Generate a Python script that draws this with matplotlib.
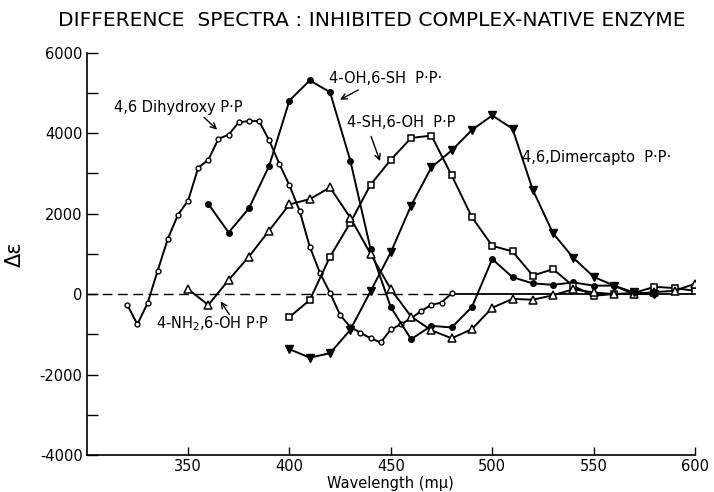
import matplotlib
matplotlib.use("Agg")
import matplotlib.pyplot as plt
from matplotlib.ticker import MultipleLocator

plt.rcParams['font.family'] = ['DejaVu Sans']
plt.rcParams['axes.unicode_minus'] = False

# ---- data ----
dihydroxy_nm = [320, 325, 330, 335, 340, 345, 350, 355, 360, 365, 370, 375, 380, 385,
                390, 395, 400, 405, 410, 415, 420, 425, 430, 435, 440, 445, 450, 455,
                460, 465, 470, 475, 480]
dihydroxy = [-270, -750, -230, 580, 1370, 1970, 2320, 3140, 3340, 3860, 3960, 4270, 4300, 4300,
             3820, 3240, 2700, 2070, 1180, 530, 30, -520, -820, -960, -1100, -1200, -880, -750,
             -600, -420, -270, -210, 20]

oh_sh_nm = [360, 370, 380, 390, 400, 410, 420, 430, 440, 450, 460, 470, 480, 490, 500,
            510, 520, 530, 540, 550, 560, 570, 580]
oh_sh = [2240, 1530, 2130, 3190, 4810, 5310, 5020, 3320, 1120, -330, -1120, -790, -830, -320, 870,
         420, 265, 230, 290, 210, 210, 0, 0]

sh_oh_nm = [400, 410, 420, 430, 440, 450, 460, 470, 480, 490, 500, 510, 520, 530, 540,
            550, 560, 570, 580, 590, 600]
sh_oh = [-570, -150, 930, 1770, 2720, 3340, 3880, 3940, 2950, 1910, 1200, 1060, 460, 620, 200,
         -40, 0, 30, 180, 150, 80]

nh2_nm = [350, 360, 370, 380, 390, 400, 410, 420, 430, 440, 450, 460, 470, 480, 490, 500,
          510, 520, 530, 540, 550, 560, 570, 580, 590, 600]
nh2 = [120, -270, 350, 930, 1580, 2230, 2360, 2650, 1900, 1000, 120, -560, -900, -1100, -870, -340,
       -120, -140, -30, 120, 40, 0, 0, 50, 80, 260]

dimercapto_nm = [400, 410, 420, 430, 440, 450, 460, 470, 480, 490, 500, 510, 520, 530, 540,
                 550, 560, 570, 580]
dimercapto = [-1370, -1580, -1470, -890, 70, 1040, 2200, 3150, 3570, 4080, 4440, 4110, 2590, 1510, 900,
              430, 210, 40, 0]

x_ticks = [350, 400, 450, 500, 550, 600]
y_ticks = [-4000, -2000, 0, 2000, 4000, 6000]

title = "DIFFERENCE  SPECTRA : INHIBITED COMPLEX-NATIVE ENZYME"

# ---- figure ----
fig = plt.figure(figsize=(7.14, 4.92), dpi=100)
ax = fig.add_axes([0.1214, 0.0752, 0.852, 0.8177])

ax.set_xlim(300, 600)
ax.set_ylim(-4000, 6000)

# zero baseline: dashed then solid where curves merge
ax.plot([300, 480], [0, 0], color='black', lw=1.0, ls=(0, (7, 4)), zorder=1)
ax.plot([480, 600], [0, 0], color='black', lw=1.3, zorder=1)

lw = 1.4
ax.plot(dihydroxy_nm, dihydroxy, color='black', lw=lw, marker='o', ms=3.5,
        mfc='white', mec='black', mew=1.0, zorder=3)
ax.plot(oh_sh_nm, oh_sh, color='black', lw=lw, marker='o', ms=4,
        mfc='black', mec='black', zorder=3)
ax.plot(sh_oh_nm, sh_oh, color='black', lw=lw, marker='s', ms=4.5,
        mfc='white', mec='black', mew=1.1, zorder=3)
ax.plot(nh2_nm, nh2, color='black', lw=lw, marker='^', ms=5.5,
        mfc='white', mec='black', mew=1.1, zorder=3)
ax.plot(dimercapto_nm, dimercapto, color='black', lw=lw, marker='v', ms=6,
        mfc='black', mec='black', zorder=3)

# labels with arrows
fs = 10.5
ax.text(313.5, 4640, "4,6 Dihydroxy P·P", fontsize=fs, va='center', ha='left')
ax.annotate("", xy=(365.3, 4040), xytext=(356.9, 4440),
            arrowprops=dict(arrowstyle='->', color='black', lw=1.0))

ax.text(419.6, 5360, "4-OH,6-SH  P·P·", fontsize=fs, va='center', ha='left')
ax.annotate("", xy=(423.7, 4800), xytext=(435.2, 5105),
            arrowprops=dict(arrowstyle='->', color='black', lw=1.0))

ax.text(428.5, 4260, "4-SH,6-OH  P·P", fontsize=fs, va='center', ha='left')
ax.annotate("", xy=(445.1, 3240), xytext=(439.8, 3985),
            arrowprops=dict(arrowstyle='->', color='black', lw=1.0))

ax.text(514.9, 3390, "4,6,Dimercapto  P·P·", fontsize=fs, va='center', ha='left')

ax.text(334.2, -740, "4-NH$_2$,6-OH P·P", fontsize=fs, va='center', ha='left')
ax.annotate("", xy=(365.3, -125), xytext=(371.1, -565),
            arrowprops=dict(arrowstyle='->', color='black', lw=1.0))

# axes styling
for s in ['top', 'right']:
    ax.spines[s].set_visible(False)
ax.spines['left'].set_linewidth(1.2)
ax.spines['bottom'].set_linewidth(1.2)

ax.set_xticks(x_ticks)
ax.set_yticks(y_ticks)
ax.yaxis.set_minor_locator(MultipleLocator(1000))
ax.tick_params(axis='x', direction='in', length=6, width=1.0, labelsize=10.5, pad=3)
ax.tick_params(axis='y', which='both', direction='in', length=8, width=1.0, labelsize=10.5, pad=3)

ax.set_xlabel("Wavelength (mμ)", fontsize=10.5, labelpad=1)
ax.set_ylabel("Δε", fontsize=15)
ax.yaxis.set_label_coords(-0.101, 0.5)

fig.text(0.521, 0.958, title, fontsize=14.6, ha='center', va='center')

fig.savefig("out.png", dpi=100)
